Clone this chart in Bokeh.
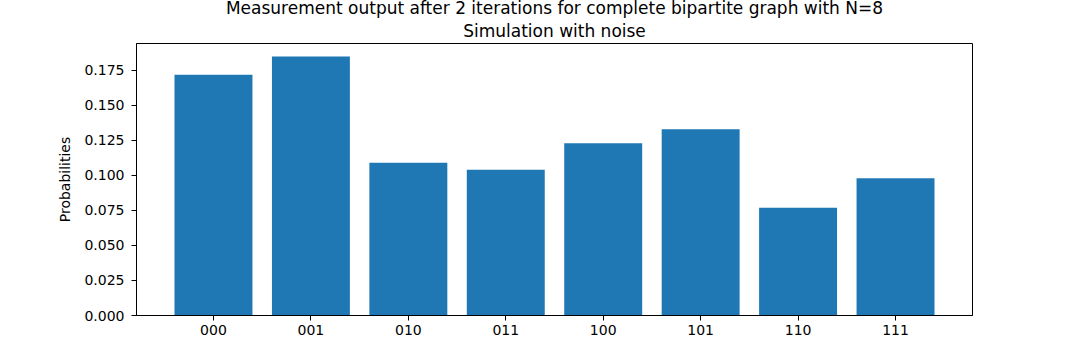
from bokeh.plotting import figure
from bokeh.models import Range1d, FixedTicker, NumeralTickFormatter, Title
from bokeh.embed import file_html
from bokeh.resources import INLINE

categories = ["000", "001", "010", "011", "100", "101", "110", "111"]
probabilities = [0.172, 0.185, 0.109, 0.104, 0.123, 0.133, 0.077, 0.098]
y_ticks = [0.0, 0.025, 0.05, 0.075, 0.1, 0.125, 0.15, 0.175]
title_line1 = "Measurement output after 2 iterations for complete bipartite graph with N=8"
title_line2 = "Simulation with noise"
y_label = "Probabilities"

xs = list(range(len(categories)))
n = len(categories)
pad = (n - 1 + 0.8) * 0.05 + 0.4
ymax = max(probabilities) * 1.05

FONT = "DejaVu Sans"

p = figure(width=1080, height=360, output_backend="svg", toolbar_location=None,
           x_range=Range1d(-pad, n - 1 + pad), y_range=Range1d(0, ymax),
           min_border_left=136, min_border_right=108, min_border_top=43, min_border_bottom=45)

p.vbar(x=xs, top=probabilities, width=0.8, bottom=0, fill_color="#1f77b4", line_color=None)

p.grid.visible = False
p.outline_line_color = "black"
p.outline_line_width = 1
p.background_fill_color = "white"
p.border_fill_color = "white"

for ax in (p.xaxis[0], p.yaxis[0]):
    ax.axis_line_color = "black"
    ax.major_tick_line_color = "black"
    ax.major_tick_out = 5
    ax.major_tick_in = 0
    ax.minor_tick_line_color = None
    ax.major_label_text_font = FONT
    ax.major_label_text_font_size = "14px"
    ax.major_label_text_color = "black"

p.xaxis.ticker = FixedTicker(ticks=xs)
p.xaxis.major_label_overrides = {i: c for i, c in zip(xs, categories)}
p.xaxis.major_label_standoff = 4

p.yaxis.ticker = FixedTicker(ticks=y_ticks)
p.yaxis.formatter = NumeralTickFormatter(format="0.000")
p.yaxis.major_label_standoff = 7
p.yaxis.axis_label = y_label
p.yaxis.axis_label_text_font = FONT
p.yaxis.axis_label_text_font_size = "14px"
p.yaxis.axis_label_text_font_style = "normal"
p.yaxis.axis_label_text_color = "black"
p.yaxis.axis_label_standoff = 8

# outer title line
p.title.text = title_line1
p.title.align = "center"
p.title.text_font = FONT
p.title.text_font_size = "17px"
p.title.text_font_style = "normal"
p.title.text_color = "black"
p.title.standoff = -7
p.title.vertical_align = "middle"
p.title.text_baseline = "middle"

# inner title line (closest to the frame)
t2 = Title(text=title_line2, align="center", text_font=FONT, text_font_size="17px",
           text_font_style="normal", text_color="black", standoff=6)
p.add_layout(t2, "above")

open("out.html", "w").write(file_html(p, INLINE))
